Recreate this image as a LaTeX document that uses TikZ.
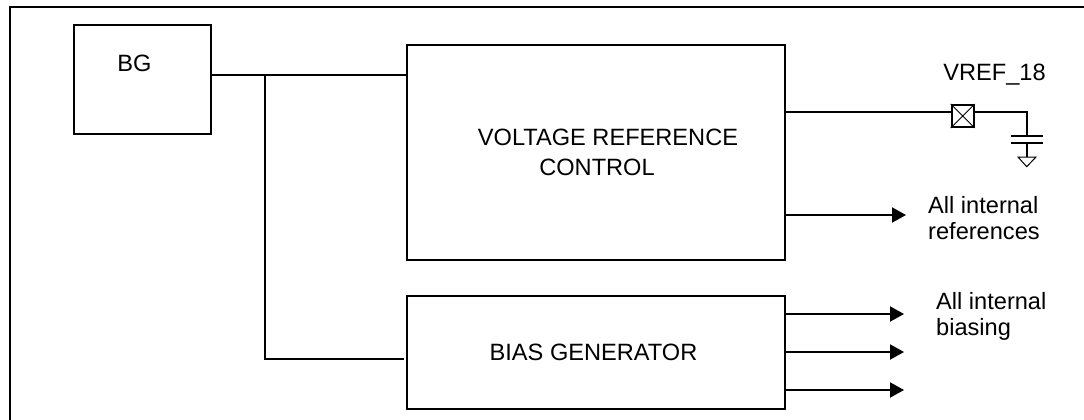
\documentclass[tikz,border=0pt]{standalone}
\usepackage{fontspec}
\setmainfont{Liberation Sans}
\usetikzlibrary{arrows.meta}
\tikzset{
  x=1pt,y=-1pt,
  wire/.style={draw=black,line width=2pt},
  box/.style={draw=black,line width=2pt,fill=white,inner sep=0pt,anchor=north west},
  lbl/.style={font=\fontsize{23.6}{26}\selectfont,inner sep=0pt,align=center,text=black},
  sig/.style={wire,-{Triangle[length=14pt,width=15pt]}},
  pad/.style={draw=black,line width=2pt,fill=white,minimum size=22pt,inner sep=0pt}
}
\begin{document}
\begin{tikzpicture}
\useasboundingbox (0,0) rectangle (1084,420);
\draw[line width=2pt] (10,420) -- (10,6.7) -- (1084,6.7);
\node[box,minimum width=137pt,minimum height=109pt] (bg) at (73,24) {};
\node[lbl] (bgt) at (134.5,63) {BG};
\node[box,minimum width=378pt,minimum height=215pt] (vrc) at (406,44) {};
\node[lbl,font=\fontsize{23.6}{30}\selectfont] (vrct) at (608,152) {VOLTAGE REFERENCE\\CONTROL\hspace*{22pt}};
\node[box,minimum width=378pt,minimum height=112.5pt] (bias) at (406,295) {};
\node[lbl] (biast) at (593.5,352) {BIAS GENERATOR};
\coordinate (bgo) at (210,75);
\coordinate (vrci) at (406,75);
\coordinate (j) at (265,75);
\coordinate (bi) at (404,359);
\draw[wire] (bgo) -- (vrci);
\draw[wire] (j) |- (bi);
\coordinate (vo) at (784,112.3);
\node[pad] (p) at (962.7,116) {};
\draw[line width=1pt] (p.north west) -- (p.south east) (p.north east) -- (p.south west);
\coordinate (c1) at (1026.7,112.3);
\coordinate (pt) at (1026.7,135.7);
\coordinate (pb) at (1026.7,142.7);
\coordinate (gn) at (1026.7,157);
\draw[wire] (vo) -- (vo -| p.west);
\draw[wire] (p.east |- c1) -- (c1) -- (pt);
\draw[line width=2pt] (1011,135.7) -- (1043,135.7);
\draw[line width=2pt] (1011,142.7) -- (1043,142.7);
\draw[wire] (pb) -- (gn);
\draw[line width=1pt] (1018,157) -- (1036,157) -- (1026.7,166.7) -- cycle;
\node[lbl] (vr) at (994.5,75) {VREF\_18};
\coordinate (a0) at (784,215);
\coordinate (a0e) at (906,215);
\draw[sig] (a0) -- (a0e);
\node[lbl,align=left,anchor=base west] (r) at (928,239) {All internal\\references};
\coordinate (a1) at (784,314);
\coordinate (a1e) at (904,314);
\coordinate (a2) at (784,352);
\coordinate (a2e) at (904,352);
\coordinate (a3) at (784,390);
\coordinate (a3e) at (904,390);
\draw[sig] (a1) -- (a1e);
\draw[sig] (a2) -- (a2e);
\draw[sig] (a3) -- (a3e);
\node[lbl,align=left,anchor=base west] (b) at (936,335) {All internal\\biasing};
\end{tikzpicture}
\end{document}
